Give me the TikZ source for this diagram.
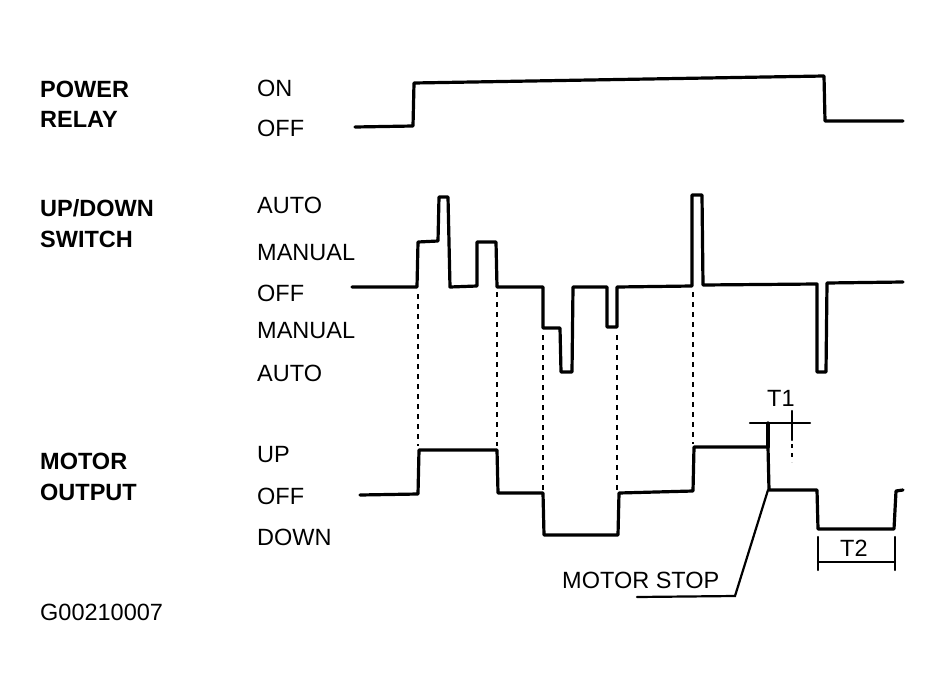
\documentclass[tikz,border=0pt]{standalone}
\usepackage{fontspec}
\setmainfont{Liberation Sans}
\begin{document}
\begin{tikzpicture}[x=1pt,y=-1pt,
  sig/.style={line width=3.2pt,line join=round,line cap=round},
  guide/.style={line width=1.9pt,dash pattern=on 5pt off 5pt},
  thin/.style={line width=2.2pt,line cap=round},
  grp/.style={anchor=west,inner sep=0pt,font=\fontsize{23.5}{25}\selectfont\bfseries},
  lvl/.style={anchor=west,inner sep=0pt,font=\fontsize{23.5}{25}\selectfont}]
\useasboundingbox (0,0) rectangle (948,699);
% group labels
\node[grp] (pw) at (40,89) {POWER};
\node[grp] (rl) at (40,119) {RELAY};
\node[grp] (ud) at (40,208) {UP/DOWN};
\node[grp] (sw) at (40,239) {SWITCH};
\node[grp] (mo) at (40,461) {MOTOR};
\node[grp] (ou) at (40,492) {OUTPUT};
% level labels
\node[lvl] (on) at (257,88) {ON};
\node[lvl] (off1) at (257,128) {OFF};
\node[lvl] (au1) at (257,205) {AUTO};
\node[lvl] (ma1) at (257,253) {MANUAL};
\node[lvl] (off2) at (257,293) {OFF};
\node[lvl] (ma2) at (257,331) {MANUAL};
\node[lvl] (au2) at (257,373) {AUTO};
\node[lvl] (up) at (257,455) {UP};
\node[lvl] (off3) at (257,496) {OFF};
\node[lvl] (dn) at (257,537) {DOWN};
\node[lvl] (code) at (40,612) {G00210007};
% power relay
\draw[sig] (355,127) -- (413,126) -- (414,83) -- (824,76) -- (825,121) -- (903,121);
% up/down switch
\draw[sig] (352,287) -- (417,287) -- (418,242) -- (438,241) -- (439,197) -- (448,197)
  -- (450,287) -- (477,286) -- (477,242) -- (496,242) -- (497,287) -- (543,287)
  -- (543,328) -- (560,328) -- (561,372) -- (572,372) -- (573,287) -- (607,287)
  -- (607,327) -- (617,327) -- (617,287) -- (692,286) -- (692,195) -- (702,195)
  -- (703,285) -- (817,284) -- (817,372) -- (826,372) -- (827,283) -- (903,282);
% guides
\draw[guide] (418,294) -- (418,446);
\draw[guide] (497,292) -- (497,446);
\draw[guide] (543,335) -- (543,490);
\draw[guide] (617,335) -- (617,490);
\draw[guide] (693,292) -- (693,444);
% motor output
\draw[sig] (360,495) -- (418,494) -- (419,450) -- (497,450) -- (498,493) -- (543,493)
  -- (544,535) -- (618,535) -- (619,493) -- (693,491) -- (694,447) -- (768,447)
  -- (769,490) -- (817,490) -- (818,529) -- (894,529) -- (896,491) -- (903,490);
\draw[sig] (768,447) -- (768,423);
% T1 marker
\coordinate (t1a) at (750,423);
\coordinate (t1b) at (810,423);
\draw[thin] (t1a) -- (t1b);
\draw[thin] (792,411) -- (792,440);
\draw[guide,line width=1.6pt,dash pattern=on 4pt off 5pt] (792,444) -- (792,462);
\node[lvl] (t1) at (767,398) {T1};
% T2 marker
\coordinate (t2a) at (818,562);
\coordinate (t2b) at (895,562);
\draw[thin] (818,537) -- (818,570);
\draw[thin] (895,537) -- (895,570);
\draw[thin] (t2a) -- (t2b);
\node[lvl] (t2) at (840,548) {T2};
% motor stop
\node[lvl] (ms) at (562,580) {MOTOR STOP};
\coordinate (msk) at (735,596);
\coordinate (mse) at (637,597);
\draw[thin] (768,490) -- (msk) -- (mse);
\end{tikzpicture}
\end{document}
